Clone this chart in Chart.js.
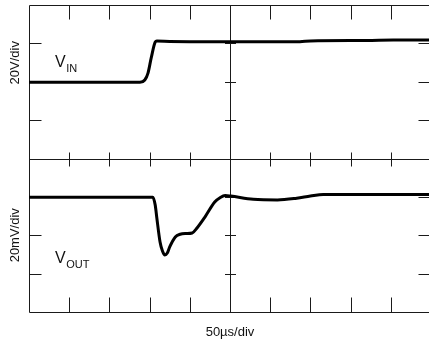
<!DOCTYPE html>
<html>
<head>
<meta charset="utf-8">
<script src="https://cdn.jsdelivr.net/npm/chart.js@4/dist/chart.umd.min.js"></script>
<style>
  html, body { margin: 0; padding: 0; background: #fff; overflow: hidden; width: 429px; height: 344px; }
  canvas { display: block; }
</style>
</head>
<body>
<canvas id="scope" width="433" height="344"></canvas>
<script>
// Time axis: 10 divisions of 50 µs
const timeDivs = 10;
const usPerDiv = 50;

// Input voltage trace (µs, V), 20 V/div
const timeIn = [0, 138, 144, 148, 152, 157, 159, 175, 225, 300, 337, 350, 420, 453, 500];
const vIn = [-0.3, -0.3, 0.9, 4.5, 12.4, 20.7, 21.2, 21.0, 20.8, 20.8, 20.9, 21.3, 21.5, 21.7, 21.7];

// Output voltage trace (µs, mV), 20 mV/div
const timeOut = [0, 154, 157, 159, 163, 166, 169, 172, 175, 182, 188, 195, 203, 209, 219, 231, 238, 244, 251, 279, 309, 333, 350, 366, 420, 500];
const vOut = [19.8, 19.8, 15.7, 9.0, -3.5, -8.2, -10.3, -9.3, -6.1, -0.9, 0.5, 0.9, 1.2, 3.8, 9.6, 17.3, 19.7, 20.7, 20.4, 18.7, 18.4, 19.3, 20.4, 21.2, 21.2, 21.2];

// Vertical scale settings: 4 divisions per panel, 8 in total
const voltsPerDiv = 20;
const mvPerDiv = 20;

const pts = (xs, ys) => xs.map((x, i) => ({ x, y: ys[i] }));

const graticule = {
  id: 'graticule',
  beforeDatasetsDraw(chart) {
    const { ctx, chartArea: a, scales } = chart;
    const sx = scales.x, sy = scales.yIn;
    const px = v => Math.round(sx.getPixelForValue(v)) + 0.5;
    const py = k => Math.round(sy.getPixelForValue(2 * voltsPerDiv - k * voltsPerDiv)) + 0.5;
    const L = Math.round(a.left) + 0.5, R = Math.round(a.right) - 0.5;
    const T = py(0), M = py(4), B = py(8), C = px(usPerDiv * timeDivs / 2);
    ctx.save();
    ctx.strokeStyle = '#1a1a1a';
    ctx.lineWidth = 1;
    ctx.beginPath();
    // frame, panel divider and centre line
    ctx.moveTo(L, T); ctx.lineTo(R, T);
    ctx.moveTo(L, M); ctx.lineTo(R, M);
    ctx.moveTo(L, B); ctx.lineTo(R, B);
    ctx.moveTo(L, T); ctx.lineTo(L, B);
    ctx.moveTo(R, T); ctx.lineTo(R, B);
    ctx.moveTo(C, T); ctx.lineTo(C, B);
    // time ticks
    for (let k = 1; k < timeDivs; k++) {
      if (k === timeDivs / 2) continue;
      const x = px(k * usPerDiv);
      ctx.moveTo(x, T); ctx.lineTo(x, T + 14);
      ctx.moveTo(x, M - 7); ctx.lineTo(x, M + 7);
      ctx.moveTo(x, B - 15); ctx.lineTo(x, B);
    }
    // amplitude ticks
    for (let k = 1; k < 8; k++) {
      if (k === 4) continue;
      const y = py(k);
      ctx.moveTo(L, y); ctx.lineTo(L + 12, y);
      ctx.moveTo(R - 12, y); ctx.lineTo(R, y);
      ctx.moveTo(C - 5.5, y); ctx.lineTo(C + 5.5, y);
    }
    ctx.stroke();
    ctx.restore();
  },
  afterDraw(chart) {
    const { ctx, chartArea: a, scales } = chart;
    const sy = scales.yIn;
    const yTop = (sy.getPixelForValue(2 * voltsPerDiv) + sy.getPixelForValue(-2 * voltsPerDiv)) / 2;
    const yBot = (sy.getPixelForValue(-2 * voltsPerDiv) + sy.getPixelForValue(-6 * voltsPerDiv)) / 2;
    ctx.save();
    ctx.fillStyle = '#111';
    ctx.textAlign = 'center';
    ctx.textBaseline = 'middle';
    ctx.font = '13px "Liberation Sans", Arial, sans-serif';
    // panel sensitivities
    ctx.save(); ctx.translate(15, yTop - 19); ctx.rotate(-Math.PI / 2);
    ctx.fillText('20V/div', 0, 0); ctx.restore();
    ctx.save(); ctx.translate(15, yBot); ctx.rotate(-Math.PI / 2);
    ctx.fillText('20mV/div', 0, 0); ctx.restore();
    // timebase
    ctx.fillText('50µs/div', 230, 332);
    // trace names with subscripts
    ctx.textAlign = 'left';
    ctx.textBaseline = 'alphabetic';
    const name = (main, sub, x, y) => {
      ctx.font = '16px "Liberation Sans", Arial, sans-serif';
      ctx.fillText(main, x, y);
      const w = ctx.measureText(main).width;
      ctx.font = '11px "Liberation Sans", Arial, sans-serif';
      ctx.fillText(sub, x + w + 0.5, y + 5);
    };
    name('V', 'IN', 55, 67);
    name('V', 'OUT', 55, 263);
    ctx.restore();
  }
};

new Chart(document.getElementById('scope'), {
  type: 'line',
  data: {
    datasets: [
      { label: 'VIN', data: pts(timeIn, vIn), yAxisID: 'yIn', borderColor: '#000', borderWidth: 3, pointRadius: 0, cubicInterpolationMode: 'monotone' },
      { label: 'VOUT', data: pts(timeOut, vOut), yAxisID: 'yOut', borderColor: '#000', borderWidth: 3, pointRadius: 0, cubicInterpolationMode: 'monotone' }
    ]
  },
  options: {
    responsive: false,
    animation: false,
    devicePixelRatio: 1,
    layout: { padding: { left: 29, top: 5, right: 2, bottom: 32 } },
    plugins: { legend: { display: false }, tooltip: { enabled: false } },
    scales: {
      x: { type: 'linear', min: 0, max: timeDivs * usPerDiv, display: false },
      yIn: { type: 'linear', position: 'left', min: -6 * voltsPerDiv, max: 2 * voltsPerDiv, display: false },
      yOut: { type: 'linear', position: 'right', min: -2 * mvPerDiv, max: 6 * mvPerDiv, display: false }
    }
  },
  plugins: [graticule]
});
</script>
</body>
</html>
